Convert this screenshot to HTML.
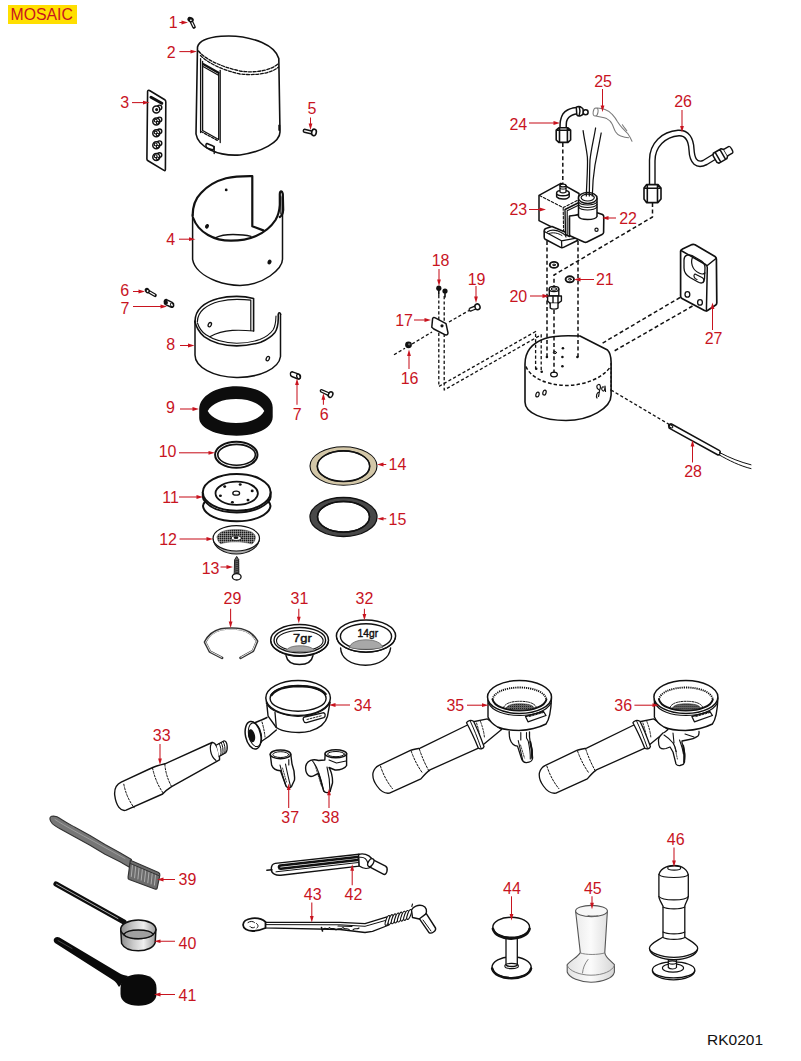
<!DOCTYPE html>
<html><head><meta charset="utf-8"><title>Mosaic exploded view RK0201</title>
<style>
html,body{margin:0;padding:0;background:#fff;}
body{width:801px;height:1061px;overflow:hidden;position:relative;font-family:"Liberation Sans",sans-serif;}
#tag{position:absolute;left:8px;top:4.5px;width:69px;height:19px;background:#ffdf00;}
#tag span{position:absolute;left:2.6px;top:0.3px;color:#c8141f;font-size:15.8px;line-height:19px;letter-spacing:0px;}
#rk{position:absolute;left:707px;top:1031px;font-size:15.5px;color:#111;}
svg{position:absolute;left:0;top:0;}
</style></head>
<body>
<div id="tag"><span>MOSAIC</span></div>
<svg width="801" height="1061" viewBox="0 0 801 1061">
<defs><pattern id="mesh" width="2" height="2" patternUnits="userSpaceOnUse"><rect width="2" height="2" fill="#6a6a6a"/><rect width="1" height="1" fill="#1a1a1a"/><rect x="1" y="1" width="1" height="1" fill="#9a9a9a"/></pattern><pattern id="mesh2" width="2" height="2" patternUnits="userSpaceOnUse"><rect width="2" height="2" fill="#666"/><rect width="1" height="1" fill="#222"/></pattern></defs>
<g fill="none" stroke="#111" stroke-width="1.3" stroke-linejoin="round" stroke-linecap="round">
<path stroke-width="3.6" d="M191.3,21.5 L194,27"/>
<path stroke="#fff" stroke-width="1.1" d="M191.6,22 L193.8,26.5"/>
<ellipse cx="190.6" cy="19.6" rx="3.3" ry="2.6" transform="rotate(25 190.6 19.6)" fill="#111" stroke="none"/>
<ellipse cx="190.9" cy="20.2" rx="1" ry="0.8" fill="#fff" stroke="none"/>
<path stroke-width="1.6" d="M197.5,47 C199,41 208,37.5 221,36.3 C235,35.2 250,37.5 262,42.5 C271,46.5 277,52 278.8,58.5 L280,132 C280,142 262,152 240,155 C218,156.5 198,147 196,134 Z"/>
<path stroke-dasharray="3,1.6" d="M198.5,51 C204,58 218,66 240,71 C256,73.5 272,70 278.3,63.5"/>
<path stroke-dasharray="3,1.6" d="M200.5,55.5 C208,63 222,70 240,74 C257,76 273,72.5 278.5,67"/>
<path d="M200.6,58.7 L200.6,132.5"/>
<path d="M202.6,61.5 L202.6,130.5 L218.7,139.5 L218.7,72.5"/>
<path d="M220.2,70.5 L220.2,142.5"/>
<path stroke-width="2.2" d="M203.5,64.2 L218.5,72.8"/>
<path d="M203.5,66.8 L218.5,75.2"/>
<path stroke-dasharray="2.5,1.5" d="M201,131.5 L218.5,141"/>
<path stroke-width="1.5" d="M207,143.5 L212.5,145.8 C214.5,146.6 214.7,149.5 212.5,149.6 L207.5,148.2 C205.5,147.5 205.5,143.2 207,143.5 Z"/>
<path d="M214.2,146.5 L214.2,153.5"/>
<path stroke-width="2" d="M279.3,125.5 L279.3,130"/>
<path stroke-width="1.6" d="M147.6,91.5 C147.6,90.3 148.5,90 149.5,90.5 L164.8,99.8 C165.6,100.3 165.8,101 165.8,102 L165.4,169.5 C165.4,170.5 164.8,170.8 164,170.4 L148,160.8 C147.2,160.3 146.9,159.8 146.9,159 Z"/>
<path stroke-width="3" d="M151,97.3 L161.8,103.3"/>
<circle cx="159.5" cy="107.4" r="2.3" fill="#fff" stroke-width="1.4"/>
<circle cx="156.3" cy="109.4" r="3.5" fill="#fff" stroke-width="1.5"/>
<ellipse cx="156.60000000000002" cy="109.60000000000001" rx="1.5" ry="1.6" fill="#111" stroke="none"/>
<circle cx="159.5" cy="119.4" r="2.3" fill="#fff" stroke-width="1.4"/>
<circle cx="156.3" cy="121.4" r="3.5" fill="#fff" stroke-width="1.5"/>
<circle cx="155.70000000000002" cy="120.60000000000001" r="1.4" stroke-width="1.1"/>
<circle cx="157.60000000000002" cy="122.7" r="1.3" stroke-width="1.1"/>
<circle cx="159.5" cy="131.3" r="2.3" fill="#fff" stroke-width="1.4"/>
<circle cx="156.3" cy="133.3" r="3.5" fill="#fff" stroke-width="1.5"/>
<circle cx="155.70000000000002" cy="132.5" r="1.4" stroke-width="1.1"/>
<circle cx="157.60000000000002" cy="134.60000000000002" r="1.3" stroke-width="1.1"/>
<circle cx="159.5" cy="143.2" r="2.3" fill="#fff" stroke-width="1.4"/>
<circle cx="156.3" cy="145.2" r="3.5" fill="#fff" stroke-width="1.5"/>
<circle cx="155.70000000000002" cy="144.39999999999998" r="1.4" stroke-width="1.1"/>
<circle cx="157.60000000000002" cy="146.5" r="1.3" stroke-width="1.1"/>
<circle cx="159.5" cy="155" r="2.3" fill="#fff" stroke-width="1.4"/>
<circle cx="156.3" cy="157" r="3.5" fill="#fff" stroke-width="1.5"/>
<circle cx="155.70000000000002" cy="156.2" r="1.4" stroke-width="1.1"/>
<circle cx="157.60000000000002" cy="158.3" r="1.3" stroke-width="1.1"/>
<path stroke-width="1.4" d="M304.5,129.3 L312.5,131.2 M304.3,132.2 L312,134 M304.5,129.3 C303,129.5 302.8,132 304.3,132.2"/>
<ellipse cx="314" cy="132.4" rx="2.3" ry="3.3" transform="rotate(12 314 132.4)" fill="#fff" stroke-width="1.6"/>
<path stroke-width="1.5" d="M192.6,214 L192.6,259.3 C194,268 203,276 216,281 C225,284.3 233,285.4 240,285.4 C252,285.4 262,281.5 270,276 C277,271 282.5,266 282.5,259.3 L282.5,197.5"/>
<path stroke-width="2.2" d="M192.6,216 C192.6,206 196,198 201,193 C207,186.5 216,181 226,178.3 C234,176.5 244,176.1 252.3,176.2 L252.3,226.3 L263.3,230.4"/>
<path stroke-width="2.2" d="M193.2,218 C196,226 201,231 208,235 C215,239 223,240.7 231,240.7 C240,240.7 248,239.5 256,236 C264,232.5 271,227 275.5,220 C278.5,215 279.5,210 279.8,205 L279.8,194 C280,190.5 282,190.5 282.8,194 L283.2,210 C283,213 281.5,216 279.8,217"/>
<path stroke-width="1.1" d="M280.8,196 L280.8,214"/>
<path stroke-width="1.3" d="M215.2,237.8 C220,235.5 227,234.5 233,234.5 C240,234.5 246,235 251,236.3"/>
<circle cx="226.2" cy="189.9" r="1.4" fill="#111" stroke="none"/>
<ellipse cx="207" cy="226.3" rx="1.9" ry="2.4" transform="rotate(25 207 226.3)" fill="#111" stroke="none"/>
<ellipse cx="269.5" cy="262" rx="2" ry="2.5" transform="rotate(25 269.5 262)" fill="#111" stroke="none"/>
<path stroke-width="3.6" d="M148.5,291.5 L155,295.3"/>
<path stroke="#fff" stroke-width="1.1" d="M149.5,292 L154.6,295"/>
<ellipse cx="147.3" cy="290.6" rx="2.4" ry="2.9" transform="rotate(-30 147.3 290.6)" fill="#111" stroke="none"/>
<ellipse cx="147.6" cy="291" rx="0.9" ry="1.1" fill="#fff" stroke="none"/>
<path fill="#fff" stroke-width="1.5" d="M166.5,299.6 L172.2,302.4 C174.6,303.6 174,308 171.4,307.2 L165.6,304.6 C163.6,303.6 164,299 166.5,299.6 Z"/>
<ellipse cx="165.9" cy="302" rx="1.9" ry="2.5" transform="rotate(-25 165.9 302)" fill="#111" stroke="none"/>
<ellipse cx="171.9" cy="304.9" rx="1.3" ry="2" transform="rotate(-25 171.9 304.9)" stroke-width="0.9"/>
<path stroke-width="1.5" d="M195,321 L195,355 A42.8,22.5 0 0,0 280.5,356.5 L280.5,314"/>
<path stroke-width="1.6" d="M195,321.5 C195,315 197.5,310.5 201.3,307 C206,302.8 212,300 218.3,298.5 C224,297 230,296.4 236.7,296.4 C242,296.4 248,297 253.6,298.5 L253.6,331"/>
<path stroke-width="1.2" d="M197.3,322 C197.5,316 200,312 203.5,309 C208,305.3 213.5,302.8 219,301.5 C225,300 231,299.3 237,299.3 C242,299.3 247,299.6 250.8,300.2 L250.8,330.5"/>
<path stroke-width="1.2" d="M209.8,336.7 C216,333.3 224,331 232.4,330.4 C239,330 246,330.3 253.6,331"/>
<path stroke-width="1.6" d="M195,322 C196.5,328 200,333 204.1,336.7 C212,342.5 224,345.9 236.7,345.9 C245,345.9 253,344.5 260.7,342.3 C267,339.5 272,336 274.9,332.4 C277.5,329 278.2,323 278.3,318 L278.2,314.5 C278.5,312 280.5,312.3 280.6,314.5"/>
<path stroke-width="1.1" d="M197.5,323 C199,328 202,332 206,334.8 C213,339.5 224,343 236.7,343.2 C245,343.2 253,341.8 259.8,339.6 C266,337 270.5,333.5 273,330 C275,327 275.8,322 276,316"/>
<ellipse cx="209.8" cy="324.7" rx="1.5" ry="2.3" transform="rotate(25 209.8 324.7)" stroke-width="1.3"/>
<ellipse cx="267.8" cy="358.6" rx="1.5" ry="2.3" transform="rotate(25 267.8 358.6)" stroke-width="1.3"/>
<path stroke-width="1.4" d="M292.5,371.8 L298.8,374.2 C301.5,375.2 300.8,379.8 298,379 L291.8,376.5 C289.7,375.8 290,371.5 292.5,371.8 Z"/>
<ellipse cx="298.4" cy="376.5" rx="1.6" ry="2.4" transform="rotate(-20 298.4 376.5)" fill="#fff" stroke-width="1.3"/>
<path stroke-width="1.3" d="M321.5,389.6 L329.5,393 M321.2,392 L328.6,395.6 M321.5,389.6 C320,389.5 320,391.8 321.2,392"/>
<ellipse cx="330.6" cy="394.6" rx="2.1" ry="2.9" transform="rotate(25 330.6 394.6)" fill="#fff" stroke-width="1.5"/>
<path fill="#0d0d0d" stroke="none" fill-rule="evenodd" d="M199.2,409 C199.5,396 216,386.2 236.5,386.2 C257,386.2 272.7,396 272.7,407.4 L272.7,417 C272.7,428 257,435.7 236.5,435.7 C216,435.7 199.2,428 199.2,418 Z M207.7,411 C212,403.5 222,399 236,399 C250,399 260,403.5 264.3,411 C260,418.5 250,423 236,423 C222,423 212,418.5 207.7,411 Z"/>
<ellipse cx="236.3" cy="454.8" rx="21.2" ry="13" stroke-width="2"/>
<ellipse cx="236.6" cy="454.8" rx="18.8" ry="10.4" stroke-width="1.6"/>
<path fill="#fff" stroke-width="2" d="M202.8,492.3 L202.8,497 C203,499 204,500.5 205.2,501.5 C203.8,503 203,504.5 203,506 C204,514.5 218,521.3 236.7,521.3 C255,521.3 269.5,514.5 270.5,506 C270.5,504.5 269.8,503 268.4,501.5 C269.6,500.5 270.5,499 270.6,497 L270.6,492.3"/>
<ellipse cx="236.7" cy="492.3" rx="33.9" ry="18.4" fill="#fff" stroke-width="2"/>
<path stroke-width="1.9" d="M205.2,501.5 C211,508.5 223,512.5 236.7,512.5 C250,512.5 262.5,508.5 268.4,501.5"/>
<ellipse cx="236.7" cy="493.3" rx="21.2" ry="11.6" stroke-width="1.8"/>
<ellipse cx="236.2" cy="493.2" rx="3.4" ry="2" stroke-width="1.3"/>
<ellipse cx="224.7" cy="486.6" rx="1.5" ry="1.3" fill="#111" stroke="none"/>
<ellipse cx="240.2" cy="484.5" rx="1.5" ry="1.3" fill="#111" stroke="none"/>
<ellipse cx="252.2" cy="490.9" rx="1.5" ry="1.3" fill="#111" stroke="none"/>
<ellipse cx="248" cy="500.1" rx="1.5" ry="1.3" fill="#111" stroke="none"/>
<ellipse cx="232.4" cy="502.2" rx="1.5" ry="1.3" fill="#111" stroke="none"/>
<ellipse cx="220.4" cy="495.8" rx="1.5" ry="1.3" fill="#111" stroke="none"/>
<path fill="#aaa" stroke-width="1.1" d="M213.1,538.5 C213.5,547.5 224,554 236.3,554 C248.6,554 259,547.5 259.5,538.5 Z"/>
<ellipse cx="236.3" cy="538.3" rx="23.2" ry="12.7" fill="#fff" stroke-width="1.2"/>
<path fill="url(#mesh)" stroke="#555" stroke-width="0.6" d="M217.2,537 C218,531.5 226,529.6 236.3,529.6 C246.6,529.6 254.6,531.5 255.4,537 C255.3,540 254,542.5 252,544 C246,542.2 240,541.8 236,541.8 C230,541.8 225,542.3 220.5,543.8 C218.5,542 217.3,539.8 217.2,537 Z"/>
<ellipse cx="236.3" cy="538.1" rx="5.1" ry="2.3" fill="#fff" stroke-width="0.9"/>
<ellipse cx="236" cy="537.7" rx="2.4" ry="1.4" fill="#111" stroke="none"/>
<path fill="#666" stroke="#222" stroke-width="1" d="M234.8,559.5 L236.7,556.4 L238.6,559.5 L238.8,574 L234.6,574 Z"/>
<path stroke-width="0.8" stroke="#222" d="M234.5,561.2 L238.9,560"/>
<path stroke-width="0.8" stroke="#222" d="M234.5,563.2 L238.9,562"/>
<path stroke-width="0.8" stroke="#222" d="M234.5,565.2 L238.9,564"/>
<path stroke-width="0.8" stroke="#222" d="M234.5,567.2 L238.9,566"/>
<path stroke-width="0.8" stroke="#222" d="M234.5,569.2 L238.9,568"/>
<path stroke-width="0.8" stroke="#222" d="M234.5,571.2 L238.9,570"/>
<path stroke-width="0.8" stroke="#222" d="M234.5,573.2 L238.9,572"/>
<ellipse cx="236.7" cy="576.8" rx="4.4" ry="3.2" fill="#fff" stroke-width="1.3"/>
<path fill="#d3c7a8" stroke="#111" stroke-width="1.1" fill-rule="evenodd" d="M310,466 A33.5,19.3 0 1,0 377,466 A33.5,19.3 0 1,0 310,466 Z M317.3,466.2 A26.2,15.3 0 1,1 369.7,466.2 A26.2,15.3 0 1,1 317.3,466.2 Z"/>
<ellipse cx="343.5" cy="466.2" rx="26.2" ry="15.3" stroke="#111" stroke-width="1.6"/>
<path fill="#484848" stroke="#111" stroke-width="1.3" fill-rule="evenodd" d="M310,517 A33.5,19.5 0 1,0 377,517 A33.5,19.5 0 1,0 310,517 Z M317.5,516.8 A26,15.3 0 1,1 369.5,516.8 A26,15.3 0 1,1 317.5,516.8 Z"/>
<ellipse cx="343.5" cy="516.8" rx="26" ry="15.3" stroke="#111" stroke-width="1.5"/>
<path fill="#fff" stroke-width="1.6" d="M525,364 C525,352 532,343 545,338.5 C552,336.3 560,335.8 568,335.8 L580,336 L607.5,350 C610,352.5 611,356 611.1,362 L611.1,395 C611.1,408 590,420.5 566,420.5 C543,420.5 525,413 525,402 Z"/>
<path stroke-dasharray="3.5,2.2" stroke-width="1.5" stroke-linecap="butt" d="M526,366.5 C530,377 545,384.5 565,385.5 C585,385.5 602,378 609.5,368"/>
<path stroke-dasharray="2.5,1.8" stroke-width="1.1" stroke-linecap="butt" d="M611,363 L611,392"/>
<circle cx="546.9" cy="357" r="1.3" fill="#111" stroke="none"/>
<circle cx="562.9" cy="348.3" r="1.3" fill="#111" stroke="none"/>
<circle cx="562.4" cy="357" r="1.3" fill="#111" stroke="none"/>
<circle cx="562.4" cy="366.2" r="1.3" fill="#111" stroke="none"/>
<circle cx="577.4" cy="357" r="1.3" fill="#111" stroke="none"/>
<circle cx="536.2" cy="368.7" r="1.3" fill="#111" stroke="none"/>
<circle cx="541.7" cy="371.7" r="1.3" fill="#111" stroke="none"/>
<ellipse cx="554" cy="374.5" rx="3.4" ry="2.3" stroke-width="1.2"/>
<ellipse cx="554.9" cy="352.6" rx="1.6" ry="1.1" stroke-width="1"/>
<ellipse cx="537.5" cy="394.5" rx="1.6" ry="2.5" transform="rotate(15 537.5 394.5)" stroke-width="1.2"/>
<ellipse cx="544.5" cy="392.6" rx="1.6" ry="2.5" transform="rotate(15 544.5 392.6)" stroke-width="1.2"/>
<path stroke-width="1.2" d="M599.5,392 C596.5,392 596,396.5 597,398 M598.5,389.5 C596.5,388.5 596,385 598.5,384.5 C600.5,384.2 601,387.5 599.8,389.5 C599,391 599.5,393 598.5,396.5 M603.5,387 C601.5,386 601,390.5 603,391 C604.8,391.4 605,388 605,386 L605.5,391.5"/>
<path stroke-dasharray="4,2.6" stroke-width="1.5" stroke-linecap="butt" d="M562.8,143 L562.8,184"/>
<path stroke-dasharray="4,2.6" stroke-width="1.5" stroke-linecap="butt" d="M547,241 L547,357"/>
<path stroke-dasharray="4,2.6" stroke-width="1.5" stroke-linecap="butt" d="M578,241 L578,357"/>
<path stroke-dasharray="4,2.6" stroke-width="1.5" stroke-linecap="butt" d="M652.5,203 L652.5,217 L554,275 L554,286"/>
<path stroke-dasharray="4,2.6" stroke-width="1.5" stroke-linecap="butt" d="M554,310 L554,373"/>
<path stroke-dasharray="4,2.6" stroke-width="1.5" stroke-linecap="butt" d="M680,297.5 L601,344"/>
<path stroke-dasharray="4,2.6" stroke-width="1.5" stroke-linecap="butt" d="M692.5,306 L612.5,352"/>
<path stroke-dasharray="3.2,2.2" stroke-width="1.3" stroke-linecap="butt" d="M611,390 L671,425.5"/>
<path stroke-dasharray="3.2,2.2" stroke-width="1.3" stroke-linecap="butt" d="M438.8,295 L438.8,386.5 L535.6,331.5 L535.6,368.5"/>
<path stroke-dasharray="3.2,2.2" stroke-width="1.3" stroke-linecap="butt" d="M444.2,296 L444.2,390 L541.2,334.8 L541.2,371.5"/>
<path stroke-dasharray="3.2,2.2" stroke-width="1.3" stroke-linecap="butt" d="M394,354.7 L405,348.2 M412,344 L432,332 M449,322 L469,310.5"/>
<circle cx="408.5" cy="344.8" r="3.4" fill="#111" stroke="none"/>
<ellipse cx="409.2" cy="344.3" rx="1.3" ry="1.1" fill="#666" stroke="none"/>
<path fill="#fff" stroke-width="1.5" d="M432.6,318.5 C433.2,317.4 434.2,317.3 435.3,317.9 L446,323.6 L448,332.8 C448,334.6 446.8,335.4 445.3,334.8 L433.8,329 L431.8,327.2 Z"/>
<circle cx="442" cy="325.8" r="1.6" fill="#111" stroke="none"/>
<circle cx="438.8" cy="288.2" r="2.6" fill="#111" stroke="none"/>
<path stroke-width="1.6" d="M438.8,290.2 L438.8,294.2"/>
<circle cx="445" cy="291" r="2.6" fill="#111" stroke="none"/>
<path stroke-width="1.6" d="M445,293 L445,297"/>
<path stroke-width="1.3" d="M470,308.2 L476,305.6 M471,311 L477,308.5 M470,308.2 C468.5,309 469,311.2 471,311"/>
<ellipse cx="477.5" cy="306.8" rx="2.5" ry="2.9" transform="rotate(-20 477.5 306.8)" fill="#fff" stroke-width="1.5"/>
<path fill="#fff" stroke-width="1.4" d="M549.3,289 L549.3,296 L558.8,296 L558.8,289"/>
<ellipse cx="554" cy="289" rx="4.8" ry="2.6" fill="#fff" stroke-width="1.4"/>
<ellipse cx="554" cy="289" rx="2.8" ry="1.3" stroke-width="1"/>
<path fill="#fff" stroke-width="1.4" d="M547.6,296 L561.4,296 L561.4,301 L558,303.3 L550,303.3 L547.6,301 Z M553,296 L553,303 M558,296 L558,303"/>
<path fill="#fff" stroke-width="1.4" d="M550.2,303.3 L550.2,308 C551.5,309.5 556.5,309.5 558,308 L558,303.3"/>
<ellipse cx="554" cy="264.9" rx="4.2" ry="3" stroke-width="1.9"/>
<ellipse cx="554" cy="264.9" rx="1.5" ry="0.8" stroke-width="1"/>
<ellipse cx="569.8" cy="279.3" rx="4.2" ry="3" stroke-width="1.9"/>
<ellipse cx="569.8" cy="279.3" rx="1.5" ry="0.8" stroke-width="1"/>
<path fill="#fff" stroke-width="1.5" d="M539,195.3 L560.9,183.3 L579,193.5 L579,222 L563.7,233 L539,220.6 Z"/>
<path stroke-dasharray="2.6,1.8" stroke-width="1.1" d="M539.5,195.6 L563.2,207.6 L578.5,199.8 M563.2,207.6 L563.6,232.5"/>
<path fill="#fff" stroke-width="1.4" d="M556.6,193 L556.6,196.8 C559,199.8 567,199.8 569.2,196.8 L569.2,193"/>
<ellipse cx="562.9" cy="193" rx="6.3" ry="2.8" fill="#fff" stroke-width="1.4"/>
<path fill="#fff" stroke-width="1.3" d="M560,185.5 L560,192 C561.5,193 564.5,193 566,192 L566,185.5"/>
<ellipse cx="563" cy="185.5" rx="3" ry="1.4" fill="#fff" stroke-width="1.3"/>
<path stroke-width="1" d="M560,188.5 C561.5,189.4 564.5,189.4 566,188.5"/>
<path fill="#fff" stroke-width="1.6" d="M544.2,231 C544.2,229.5 545,228.6 546.5,228.2 L552,226.5 L578,237.5 L577.4,240.5 L563.5,247.4 C562.5,247.9 561.5,247.9 560.6,247.4 L545.2,239.2 C544.4,238.7 544.2,238 544.2,237 Z"/>
<path stroke-width="1.3" d="M544.4,231.5 L561.5,240.8 L577.6,237.8 M561.5,240.8 L561.8,247.5"/>
<path stroke-width="1.2" d="M547.5,231.8 C551,229.5 557,230 563,233.5 C565,234.7 566,236 566,237"/>
<path stroke-width="1" d="M549,233.5 C553,232 558,233 562,235.5"/>
<path fill="#fff" stroke-width="1.4" d="M565,209.5 L579,202.5 L579,214 L569.5,218.5 L569.5,236.5 L565.5,234.5 Z"/>
<path stroke-width="1.1" d="M567.2,210.8 L579,205 M567.2,210.8 L567.2,235.5"/>
<path fill="#fff" stroke-width="1.6" d="M569.5,216 L596.5,212.5 L602.5,214.5 C603.6,215.2 603.8,216 603.8,217 L603.6,232.5 C603.5,233.5 603,234 602,234.5 L587,242 C586,242.5 585,242.5 584,242 L570.5,236 C569.8,235.6 569.5,235 569.5,234 Z"/>
<circle cx="596.5" cy="229.8" r="1.6" stroke-width="1.2"/>
<path fill="#fff" stroke-width="1.5" d="M578.5,198.5 L578.5,216.5 C580,220.5 595,220.5 597,216.5 L597,198.5"/>
<ellipse cx="587.7" cy="198" rx="9.3" ry="5.4" fill="#fff" stroke-width="1.5"/>
<ellipse cx="587.7" cy="197.6" rx="6.6" ry="3.4" stroke-width="1.2"/>
<path stroke-width="1.1" d="M578.6,202 C581,206 594,206 596.9,202 M578.6,204.5 C581,208.5 594,208.5 596.9,204.5 M578.6,207 C581,211 594,211 596.9,207"/>
<path stroke-width="1.25" d="M586.3,196 C586.5,185 588,168 587.4,157.4 C586.5,148 584,138 583.1,130.6 M589.3,196 C589.5,185 589.5,170 590,160 C591,150 594,138 595.6,128 M592.3,196 C592.5,185 593.5,174 595,165 C597,155 599.5,142 601.2,133"/>
<path stroke-width="1.5" d="M560,128.1 C560,124 560,122 560.6,120 C561.3,117 562,115.5 563.1,113.7 C564.5,111.8 566,110.8 567.5,110 C569.5,109 571,108.5 572.5,108.1 C574,107.8 575.5,107.6 576.8,107.5"/>
<path stroke-width="1.5" d="M566.2,128.1 C566.2,125 566.2,123.5 566.5,121.8 C567,119.8 567.6,118.6 568.7,117.5 C569.8,116.4 571,115.6 572.5,115 C574,114.3 575.8,113.9 577.5,113.7"/>
<path fill="#fff" stroke-width="1.5" d="M576.3,107.3 C577.5,106.3 579,106.2 580.5,106.8 L582.8,108.5 C583.6,110.5 583.6,113 582.8,114.5 L580.5,115.8 C579,116.2 577.5,115.8 576.8,114.8 Z M579.2,106.8 C580.2,109.5 580.2,112.5 579.2,115.6"/>
<circle cx="585.6" cy="112.2" r="2.5" fill="#fff" stroke-width="1.5"/>
<path fill="#fff" stroke-width="1.6" d="M556.2,130 L558.8,127.8 L568,127.8 L570.6,130 L570.6,140 L568,142.4 L558.8,142.4 L556.2,140 Z M559.5,128 L559.5,142.3 M567.4,128 L567.4,142.3 M556.2,130.2 L570.6,130.2"/>
<g stroke="#7a7a7a" stroke-width="1.05"><ellipse cx="595.6" cy="112" rx="2.4" ry="4" transform="rotate(10 595.6 112)"/><path d="M597,108 C600,108.3 603,108.8 605,109.4 C608,110.5 610.5,112 612,114.2 C614.5,117 616,119 617.2,121.2 C619,124 620.5,126 622.4,128.2 C624.5,130.5 626.5,132 627.7,133.5 C629.5,136 631,139 632,141.3"/><path d="M596.2,116 C600,117 603.5,117.5 606.7,118.6 C609,119.8 611,121.5 612,123.8 C613.5,127 614.2,129.5 615.5,131.7 C617,134 618.5,135.5 620.7,136.1 C623.5,137 626,137.6 628.6,137.8"/><path d="M622.4,124.7 C623.5,126.5 625.5,129 626.8,130.8"/></g>
<path stroke-width="1.4" d="M649.5,185 L649.5,160 C649.5,143 662,131.5 678,130.3 C689,129.8 693.5,138 694,149 C694.5,158 697,163 703,160.5 L716,152.5"/>
<path stroke-width="1.4" d="M655,185 L655,161 C655,147 665,137 679,135.8 C686,135.5 688.5,141 689,150 C689.5,163 696,170 707,164.5 L718.5,157.5"/>
<path fill="#fff" stroke-width="1.6" d="M644,188 L646.5,184.6 L658,184.6 L661,188 L661,199 L658,202.6 L646.5,202.6 L644,199 Z M647.3,185 L647.3,202.4 M657.5,185 L657.5,202.4 M644,188.3 L661,188.3"/>
<g transform="rotate(-30 723 154)"><path fill="#fff" stroke-width="1.5" d="M715,148.5 L724,148.5 L726,150.5 L726,158 L724,160 L715,160 L713.5,158 L713.5,150.5 Z M717,148.5 L717,160 M722.5,148.5 L722.5,160"/><path fill="#fff" stroke-width="1.4" d="M726,150.3 L731.5,150.3 C733.5,150.3 733.5,158 731.5,158 L726,158"/></g>
<path fill="#fff" stroke-width="1.7" d="M680.6,251 C680.6,249.8 681.5,249.5 682.5,249 L692,244.6 C693,244.2 694,244.3 695,244.8 L715,256.5 C716,257.2 716.4,258 716.4,259 L716.8,303 C716.8,304.3 716,305 715,305.5 L707.5,310.5 C706.5,311.2 705.5,311.1 704.5,310.6 L682,298.5 C681,298 680.6,297.2 680.6,296 Z"/>
<path stroke-width="1.5" d="M681,250.5 L705.5,264.5 C706.8,265.3 707.3,266.3 707.3,267.5 L706.4,310.8 M707.3,265.5 L716,258.5"/>
<path stroke-width="1.3" d="M684,260 C684,255 688,254 692,255.5 L701.5,261 C704.5,263 705,265 705,268 L704.5,279 C704,283 701.5,284 698,282 L690,277.5 C686,275 684,272 684,268 Z"/>
<path stroke-width="1.2" d="M693,256.5 C690,262 692,270 699,273 C702,274.5 704,274 705,273 M695,274 L702,277.5 C704,278.5 704.5,281 703,282.5 M695,274 C693,275 694,279 697,279.5"/>
<ellipse cx="687.4" cy="294.4" rx="2.4" ry="2.7" stroke-width="1.3"/>
<ellipse cx="700" cy="302.4" rx="2.4" ry="2.7" stroke-width="1.3"/>
<path fill="#fff" stroke-width="1.5" d="M671.5,424 L719.6,450.6 C721,451.5 720,455.5 718,455 L669.6,428.4 C668,427.5 669.8,423 671.5,424 Z"/>
<ellipse cx="670.6" cy="426.2" rx="1.3" ry="2.5" transform="rotate(-60 670.6 426.2)" stroke-width="1.1"/>
<path stroke-width="1" d="M719.5,452.5 C730,458 740,462 751,464.8 M718.5,454.5 C729,460.5 740,466 751,468.6"/>
<path stroke="#333" stroke-width="2.6" d="M222.1,657.8 L209.9,651.7 L205,642.1 C208,636 214,631 221,629.3 C226,628.3 236,628.2 241,629.2 C248,630.8 254,635.5 257.1,641.2 L253.1,650.8 L240.5,657.8"/>
<path stroke="#fff" stroke-width="0.9" d="M221.5,657.3 L210.3,651.5 L205.6,642.2 C208.6,636.3 214.3,631.6 221,630 C226,629 236,628.9 241,629.9 C247.7,631.4 253.4,635.8 256.5,641.3 L252.7,650.6 L241,657.3"/>
<path fill="#fff" stroke-width="1.4" d="M286,655.5 C287,661 292,664.5 299.5,664.5 C307,664.5 312,661 313,655.5"/>
<ellipse cx="299.6" cy="640.2" rx="28.9" ry="15.6" fill="#fff" stroke-width="1.5"/>
<path stroke-width="1.2" d="M270.9,641.5 C272,650 284,656 299.6,656.5 C315,656 327,650 328.3,641.5"/>
<ellipse cx="299.8" cy="640.2" rx="25.8" ry="12.7" stroke-width="1.4"/>
<ellipse cx="299.8" cy="640.8" rx="23.3" ry="10.3" stroke-width="1.1"/>
<path fill="#a8a8a8" stroke="#666" stroke-width="0.8" d="M286.3,650.6 C287.5,647.5 293,645.8 300,645.8 C307,645.8 313,647.5 314.2,650.6 C309,651.5 304,651.8 300,651.8 C295,651.8 290,651.4 286.3,650.6 Z"/>
<path fill="#fff" stroke-width="1.4" d="M340.6,648 C341,658 350,665 365.5,665.2 C380,665 389.5,658 390.6,648"/>
<ellipse cx="366" cy="636" rx="29.6" ry="16" fill="#fff" stroke-width="1.5"/>
<path stroke-width="1.2" d="M336.8,638 C338,646 350,652 366,652.5 C382,652 394,646 395.2,638"/>
<ellipse cx="366" cy="636.5" rx="25.6" ry="12.8" stroke-width="1.4"/>
<path fill="#a8a8a8" stroke="#666" stroke-width="0.8" d="M349.5,647.5 C350,643 357,639.8 366,639.8 C375,639.8 382,643 382.5,647.5 C377,648.8 371,649.3 366,649.3 C360,649.3 354,648.8 349.5,647.5 Z"/>
<path fill="#fff" stroke-width="1.4" d="M121.2,782.1 L150.5,768.5 C153,767.3 157,765.7 165,763.8 L212.1,742.5 C216,742 220,752 219.5,759.9 L171.6,786.7 C168,789 165,791.5 162.6,794 L126.1,810.2 C121,812 116,806 114.7,795 C114.2,789 116.5,784.3 121.2,782.1 Z"/>
<path stroke-width="1.2" d="M212.1,742.5 C209,746 210,756 216,760.5"/>
<path stroke-dasharray="2,1.6" stroke-width="1" d="M123.8,784.2 C125.5,793 129,801 134.2,807.8 M152.5,768 C154.5,777 158,786 163.5,793.5 M164.8,764.2 C165.5,772 167.5,779 171.4,786.2"/>
<path fill="#fff" stroke-width="1.3" d="M216.5,745 L224.2,740.8 C227.5,741 228.2,750 225.7,752.8 L219.2,756.4"/>
<path stroke-width="1" d="M219,743.7 C220.8,746 221.5,751 220.8,755.5 M221,742.6 C222.8,745 223.5,750 222.8,754.3 M223,741.5 C224.8,744 225.5,749 224.8,753.2"/>
<path fill="#fff" stroke-width="1.4" d="M266.9,705 L268.1,716.2 L276.3,727.5 C282,732 300,734 310,731.2 C320,728 326,722 327.5,716.2 L330,702.5"/>
<path stroke-width="1.3" d="M275,712.5 L276.3,727.5"/>
<ellipse cx="298.1" cy="698" rx="32.3" ry="17.4" fill="#fff" stroke-width="1.5"/>
<path stroke-width="1.2" d="M266.2,703 C270,711 284,716 298,716.3 C313,716 326,711 329.8,702.5"/>
<ellipse cx="298.1" cy="698.4" rx="28" ry="12.8" stroke-width="1.4"/>
<path stroke-width="2.6" d="M271.5,695 C276,689 286,686.3 298,686 C311,686 321,689 325.5,694"/>
<path fill="#fff" stroke-width="1.3" d="M304.5,717 L322.8,712.8 C325.5,712.3 326,716.5 323.8,717.6 L306.5,722.6 C303.5,723.3 302,717.8 304.5,717 Z"/>
<path stroke-dasharray="1.8,1.4" stroke-width="0.9" d="M307,719.5 L322,715.6"/>
<path fill="#fff" stroke-width="1.4" d="M267,717.5 C264,719 262,720 259,721 L251,724.4 L258,745.6 L262,741 C267,738 272,734 276.3,730"/>
<path stroke-dasharray="2,1.5" stroke-width="1" d="M257.5,726 C259,732 259.8,737 260,742 M262,722 C263.5,727 264.5,732 265,737"/>
<ellipse cx="253.1" cy="735.3" rx="7.6" ry="14" transform="rotate(-12 253.1 735.3)" fill="#fff" stroke-width="1.5"/>
<ellipse cx="255" cy="734.8" rx="6.3" ry="12" transform="rotate(-12 255 734.8)" stroke-width="1"/>
<ellipse cx="251.6" cy="735.8" rx="3.4" ry="6.6" transform="rotate(-12 251.6 735.8)" fill="#111" stroke="none"/>
<path fill="#fff" stroke-width="1.4" d="M270.3,754.5 L271.6,765 C273,769 277,770.5 280.5,770.8 L286,786 C287,788 290.5,788.5 291.5,786.5 L294.5,780 C295,773 293.5,768 292,764 L290.8,754.5"/>
<ellipse cx="280.5" cy="754.3" rx="10.3" ry="4.4" fill="#fff" stroke-width="1.5"/>
<ellipse cx="280.8" cy="754.6" rx="8" ry="2.9" stroke-width="1"/>
<path stroke-width="1.1" d="M280,765 C281.5,772 283.5,779 286,786 M285.5,764 C287,772 289,780 290.5,786.5 M288.8,759.5 L288.8,765"/>
<path stroke-dasharray="1.5,1.2" stroke-width="0.8" d="M282.5,768 L286.5,782"/>
<path fill="#fff" stroke-width="1.4" d="M325.2,754 L324.8,760 L318.5,760.5 C313,758.5 307,760.5 305.8,766 C305,771 307,776 311,776.5 C314,776.5 316,774 318.5,773.5 C320.5,779 322,786 323.8,791.2 C325,793 328.5,793 330,791.5 L332.5,783 C332.8,776 331,771 329,767.5 L335,770 C340,770.5 345.5,768 346.6,765.5 L346.6,753.5"/>
<ellipse cx="335.8" cy="753.8" rx="10.8" ry="4" fill="#fff" stroke-width="1.5"/>
<ellipse cx="336" cy="754.1" rx="8.4" ry="2.6" stroke-width="1"/>
<path stroke-width="1.1" d="M312.5,761 C317,766 320.5,776 323.8,791 M327,767 C329,775 330,783 330,791.5 M329,760 L336.5,763 L346,761"/>
<path stroke-dasharray="1.5,1.2" stroke-width="0.8" d="M315,765 L321.5,786"/>
<g transform="translate(0,0)"><path fill="#fff" stroke-width="1.3" d="M379,765.4 L410.4,750.4 C413,749.5 416,749 420.2,748.2 L468.5,724.5 L479,747.8 L430,769.9 C427,772 424.7,774.4 420.9,778.9 L389.5,793.1 C384,794 380.5,791 377,786 C373.5,781 372.5,776 373,772.9 C374,769 376,766.8 379,765.4 Z"/><path stroke-dasharray="2,1.6" stroke-width="1" d="M380.5,766.2 C383,774 387,782 392.5,788.7 M411.2,751.2 C414,759 417.5,766 422.4,772.9 M419.4,749.3 C422,757 425,764 429.2,771.4"/><path fill="#fff" stroke-width="1.3" d="M472,722 L487.4,718.9 L501.6,729.6 L481,746.5 Z"/><path stroke-dasharray="2,1.5" stroke-width="0.9" d="M476.5,723 C478.5,729 480,735 480.5,742 M480.5,721.5 C482.5,727 484,732 484.5,738"/><path fill="#fff" stroke-width="1.3" d="M466.5,722.8 C467.5,720.3 471,719.8 473.5,721.3 C477,728 480.5,737 484,746.5 C483.5,749 480,749.5 478.3,748 C475,740 471,731 466.5,722.8 Z"/><path stroke-width="1" d="M470.2,721 C474,729 477.5,738 481,748"/><path fill="#fff" stroke-width="1.4" d="M488,699 L488,717 C490,722 494,725 497.5,727 C504,730 512,730.5 519,730.5 C530,730 540,727 546,724 C549,720 551,712 551.5,698"/><ellipse cx="519.5" cy="697" rx="32" ry="16.5" fill="#fff" stroke-width="1.5"/><path stroke-width="1.2" d="M488.5,703 C492,711 505,715.5 519.5,715.5 C534,715.5 547,711 551,703"/><path stroke-width="1.9" d="M492.6,699.5 C494,706 505,710.6 519.5,710.6 C534,710.6 545,706 546.4,699.5"/><path stroke-width="1.9" stroke-dasharray="1.2,0.9" stroke-linecap="butt" d="M492.6,699.5 C493.5,692.5 505,687.5 519.5,687.5 C534,687.5 545.5,692.5 546.4,699.5"/><path stroke-width="1" stroke-dasharray="1.5,1.2" d="M503.5,707.5 C505.5,703 512,701.3 520,701.3 C528,701.3 534.5,703 536.5,707.5"/><path fill="url(#mesh2)" stroke="#333" stroke-width="0.6" d="M506.5,707.5 C508,704.8 513,703.8 520,703.8 C527,703.8 532,704.8 534,707.5 C531,709.3 526,709.9 520,709.9 C514,709.9 509,709.3 506.5,707.5 Z"/><path fill="#fff" stroke-width="1.3" d="M525.5,716.5 L543.5,711.5 L546,715.5 L528,721.8 Z M525.5,716.5 L528,721.8"/><path stroke-dasharray="1.8,1.4" stroke-width="0.9" d="M529.5,716.5 L543.5,712.5"/><path fill="#fff" stroke-width="1.3" d="M509.2,731.5 C509,737 510.5,742 513,744.2 C514.5,745.5 516,746 517.5,746.1 L521,757 C522,761 524,762.8 526.5,762.6 C530,762.3 532.6,760.5 532.5,758.4 C532.8,752 531.5,746 530.2,742 L529.5,737 L529.5,731.8"/><path stroke-width="1.1" d="M518.2,740.5 L522.7,760 M520.8,732.5 L520.8,740 M526.5,732.5 L526.5,738 L528.2,741 C529.5,747 530.5,753 530.3,759"/><path stroke-width="2" d="M530.3,742 C531.5,747 532.3,752 532.2,758"/><path stroke-dasharray="1.5,1.2" stroke-width="0.8" d="M520.5,745 L524.5,758"/></g>
<g transform="translate(166.4,0)"><path fill="#fff" stroke-width="1.3" d="M379,765.4 L410.4,750.4 C413,749.5 416,749 420.2,748.2 L468.5,724.5 L479,747.8 L430,769.9 C427,772 424.7,774.4 420.9,778.9 L389.5,793.1 C384,794 380.5,791 377,786 C373.5,781 372.5,776 373,772.9 C374,769 376,766.8 379,765.4 Z"/><path stroke-dasharray="2,1.6" stroke-width="1" d="M380.5,766.2 C383,774 387,782 392.5,788.7 M411.2,751.2 C414,759 417.5,766 422.4,772.9 M419.4,749.3 C422,757 425,764 429.2,771.4"/><path fill="#fff" stroke-width="1.3" d="M472,722 L487.4,718.9 L501.6,729.6 L481,746.5 Z"/><path stroke-dasharray="2,1.5" stroke-width="0.9" d="M476.5,723 C478.5,729 480,735 480.5,742 M480.5,721.5 C482.5,727 484,732 484.5,738"/><path fill="#fff" stroke-width="1.3" d="M466.5,722.8 C467.5,720.3 471,719.8 473.5,721.3 C477,728 480.5,737 484,746.5 C483.5,749 480,749.5 478.3,748 C475,740 471,731 466.5,722.8 Z"/><path stroke-width="1" d="M470.2,721 C474,729 477.5,738 481,748"/><path fill="#fff" stroke-width="1.4" d="M488,699 L488,717 C490,722 494,725 497.5,727 C504,730 512,730.5 519,730.5 C530,730 540,727 546,724 C549,720 551,712 551.5,698"/><ellipse cx="519.5" cy="697" rx="32" ry="16.5" fill="#fff" stroke-width="1.5"/><path stroke-width="1.2" d="M488.5,703 C492,711 505,715.5 519.5,715.5 C534,715.5 547,711 551,703"/><path stroke-width="1.9" d="M492.6,699.5 C494,706 505,710.6 519.5,710.6 C534,710.6 545,706 546.4,699.5"/><path stroke-width="1.9" stroke-dasharray="1.2,0.9" stroke-linecap="butt" d="M492.6,699.5 C493.5,692.5 505,687.5 519.5,687.5 C534,687.5 545.5,692.5 546.4,699.5"/><path stroke-width="1" stroke-dasharray="1.5,1.2" d="M503.5,707.5 C505.5,703 512,701.3 520,701.3 C528,701.3 534.5,703 536.5,707.5"/><path fill="url(#mesh2)" stroke="#333" stroke-width="0.6" d="M506.5,707.5 C508,704.8 513,703.8 520,703.8 C527,703.8 532,704.8 534,707.5 C531,709.3 526,709.9 520,709.9 C514,709.9 509,709.3 506.5,707.5 Z"/><path fill="#fff" stroke-width="1.3" d="M525.5,716.5 L543.5,711.5 L546,715.5 L528,721.8 Z M525.5,716.5 L528,721.8"/><path stroke-dasharray="1.8,1.4" stroke-width="0.9" d="M529.5,716.5 L543.5,712.5"/><path fill="#fff" stroke-width="1.3" d="M496.6,733 C494.5,735 492.1,737 492.1,740 C492,743 492.3,746 493.5,747.5 C495.1,749 497.5,749.2 499.6,748.5 L503.6,747 C505,749 506,751 506.6,752 L509.6,764 C510.5,765.3 512,765.7 513.6,765.5 C516,765 517.6,764 517.6,763 C518.5,759 518.6,755 518.1,752 C517.5,748 516.8,745 515.6,743 L515.6,741 L520.6,740 C525,739.5 529,738 531.6,736 C532.6,734.5 532.8,733 532.6,731.5"/><path stroke-width="1.1" d="M497.6,735 C501,737 504,740 506.6,743 C508.5,746 509.5,749 510,752 M506.6,733 L507.6,743 M513.1,740 C515,745 516.5,749 517,754 M518.6,734 L527.6,737"/><path stroke-width="2" d="M516.8,746 C517.8,751 518.2,756 517.8,762"/><path stroke-dasharray="1.5,1.2" stroke-width="0.8" d="M508,745 L511,759"/></g>
<path fill="#767676" stroke="#333" stroke-width="1.1" d="M51.5,816.3 C55,815.6 58,816.8 60,818.5 C65,822 70,824.5 75,827.2 L90,835.5 L105,844.5 L120,852.7 L131.5,859.4 L129,867 L120,861.7 L105,854.2 L90,845.2 L75,837 L60,828.7 C56,826.5 53.5,825 52.2,823.5 C49.5,820.5 49,817 51.5,816.3 Z"/>
<path stroke="#9c9c9c" stroke-width="1" d="M55,819.5 C65,826 80,834 95,842 L125,858.5"/>
<path fill="#6c6c6c" stroke="#333" stroke-width="1.2" d="M130.4,860.2 L158.6,872.5 C159.8,873.3 160,874.3 159.8,875.5 L157.2,888 C156.8,889.2 156,889.4 154.8,889 L129.2,879.5 C128.2,879 127.9,878.2 128.1,877 Z"/>
<path stroke="#b4b4b4" stroke-width="0.9" d="M132.5,864.5 L131.3,876.5"/>
<path stroke="#b4b4b4" stroke-width="0.9" d="M135.8,866.0 L134.6,877.8"/>
<path stroke="#b4b4b4" stroke-width="0.9" d="M139.1,867.4 L137.9,879.0"/>
<path stroke="#b4b4b4" stroke-width="0.9" d="M142.4,868.9 L141.2,880.2"/>
<path stroke="#b4b4b4" stroke-width="0.9" d="M145.7,870.3 L144.5,881.5"/>
<path stroke="#b4b4b4" stroke-width="0.9" d="M149.0,871.8 L147.8,882.8"/>
<path stroke="#b4b4b4" stroke-width="0.9" d="M152.3,873.2 L151.1,884.0"/>
<path stroke="#b4b4b4" stroke-width="0.9" d="M155.6,874.6 L154.4,885.2"/>
<path stroke="#333" stroke-width="1" d="M130.4,863.5 L158.5,875.5"/>
<path stroke="#0d0d0d" stroke-width="5.2" d="M56,884 L124,922"/>
<path stroke="#a8a8a8" stroke-width="1" d="M56.5,884.3 L118,918.6"/>
<defs><linearGradient id="cupg" x1="0" x2="1" y1="0" y2="0"><stop offset="0" stop-color="#8c8c8c"/><stop offset="0.35" stop-color="#c9c9c9"/><stop offset="0.65" stop-color="#efefef"/><stop offset="1" stop-color="#9a9a9a"/></linearGradient></defs>
<path fill="url(#cupg)" stroke="#111" stroke-width="1.5" d="M120.7,929.3 L121.6,943.5 C124,948.5 130,950.8 138.3,950.8 C147,950.8 153.5,947.5 155.2,942.5 L155.9,929.3 Z"/>
<ellipse cx="138.3" cy="929.3" rx="17.6" ry="9.3" fill="url(#cupg)" stroke="#111" stroke-width="1.5"/>
<path fill="#a0a0a0" stroke="#111" stroke-width="1.4" d="M123.6,934.5 C126,931.3 131,930 138.3,930 C146,930 151.5,931.5 153.4,934.5 C150,937.5 145,938.7 138.3,938.7 C131,938.7 126,937.5 123.6,934.5 Z"/>
<path fill="#0a0a0a" stroke="none" d="M55,937.8 C53,939.3 53.5,942.4 55.8,943.4 L113,980 C116,982 117.5,984.5 119,987 L128,976 C125,975.5 122,974.5 119.5,973.2 L59.5,937.6 C58,936.8 56.3,936.8 55,937.8 Z"/>
<path fill="#0a0a0a" stroke="none" d="M120.5,988 C120.5,979 128,974.3 138.5,974.3 C149,974.3 156.5,979 156.5,988 L156.5,994 C156.5,1001.5 149,1005.8 138.5,1005.8 C128,1005.8 120.5,1001.5 120.5,994 Z"/>
<path stroke="#555" stroke-width="0.8" d="M58,940.6 L72,948.5"/>
<path fill="#fff" stroke-width="1.4" d="M275.3,863.4 L359.1,854.3 L359.1,866.1 L280.8,875.2 C276,875.8 271.5,873.5 271.3,869.6 C271.2,866.3 272.8,863.7 275.3,863.4 Z"/>
<path fill="#fff" stroke-width="2.5" d="M280.5,865.6 L357.2,857.1 C359.2,856.9 359.6,859.6 357.6,859.9 L280.9,868.8 C278.6,869 278.2,865.9 280.5,865.6 Z"/>
<path stroke-width="1" d="M276,871.8 L358.5,862.5"/>
<path stroke-width="1.4" d="M266.8,870.3 L272,869.8"/>
<path fill="#fff" stroke-width="1.4" d="M358.6,854.5 C363,853 368.5,854.5 371.5,858.3 L371.5,866.2 C368.5,869.2 363.5,869 359.2,866 Z"/>
<path stroke-width="1.1" d="M359.5,857.3 C363.5,856.8 366.7,858.8 367.8,863"/>
<path fill="#fff" stroke-width="1.4" d="M371.2,858.8 L385.6,866.2 C388.6,868.2 386.8,875.3 383.8,874.4 L369.5,866.8"/>
<ellipse cx="370.8" cy="862.6" rx="2.5" ry="4.3" transform="rotate(30 370.8 862.6)" fill="#fff" stroke-width="1.3"/>
<path fill="#fff" stroke-width="1.3" d="M263,922.3 L340,922.3 L365,923.7 L387,916.8 L389,925 L372.5,931.3 L365,932.5 L340,929.5 L263,927.8 Z"/>
<path stroke-width="1" d="M266,924.6 L340,924.8 L365,926.3 L387,920"/>
<path fill="#fff" stroke-width="1.8" d="M265.5,922 C262,918.5 257,917.8 252,918.3 C246,919 243,922 243.1,925 C243.2,928.5 247,931 252.5,931 C258,931 262,929.5 265.5,928 Z"/>
<path stroke-width="1" d="M248,922.5 C250,921 253,921 254.5,922.5 M250,926.5 C251,928 253,928.3 254.5,927.3 M256.5,923.5 C258.5,924.5 258.5,927 257,928"/>
<path stroke-width="1.1" d="M323,929.5 C325,926.5 327,930.5 329.5,927.5 C331.5,930.5 334,926.5 336,930 C338,927 340.5,930.5 343,927.5 C345,930.5 347.5,927 349.5,930 M338,926 L352,926.5 M353,929.8 C355,927.5 357,930 359,928"/>
<path stroke-width="1.6" d="M321.5,927.5 L322.5,931"/>
<ellipse cx="387.5" cy="920.5" rx="1.6" ry="5.2" transform="rotate(20 387.5 920.5)" fill="#fff" stroke-width="1.1"/>
<ellipse cx="390.6" cy="919.6" rx="1.6" ry="5.2" transform="rotate(20 390.6 919.6)" fill="#fff" stroke-width="1.1"/>
<ellipse cx="393.7" cy="918.8" rx="1.6" ry="5.2" transform="rotate(20 393.7 918.8)" fill="#fff" stroke-width="1.1"/>
<ellipse cx="396.8" cy="918.0" rx="1.6" ry="5.2" transform="rotate(20 396.8 918.0)" fill="#fff" stroke-width="1.1"/>
<ellipse cx="399.9" cy="917.1" rx="1.6" ry="5.2" transform="rotate(20 399.9 917.1)" fill="#fff" stroke-width="1.1"/>
<ellipse cx="403.0" cy="916.2" rx="1.6" ry="5.2" transform="rotate(20 403.0 916.2)" fill="#fff" stroke-width="1.1"/>
<ellipse cx="406.1" cy="915.4" rx="1.6" ry="5.2" transform="rotate(20 406.1 915.4)" fill="#fff" stroke-width="1.1"/>
<ellipse cx="409.2" cy="914.5" rx="1.6" ry="5.2" transform="rotate(20 409.2 914.5)" fill="#fff" stroke-width="1.1"/>
<path fill="#fff" stroke-width="1.4" d="M411.5,910 C413,906.5 418,904.5 422.5,905.6 C426.5,906.8 427.5,911 425.5,914.5 L421.5,919.5 L412.5,917.5 Z"/>
<path stroke-width="1.1" d="M411.8,906.5 L412.5,904"/>
<path fill="#fff" stroke-width="1.4" d="M419.5,918.8 L426.3,913.6 L435.5,928 C436.5,931 431.5,934.2 429,932.6 Z"/>
<path stroke-width="1" d="M423,920 L431,931"/>
<ellipse cx="511.6" cy="967.3" rx="19.6" ry="10.6" fill="#fff" stroke-width="1.4"/>
<path stroke-width="2.6" d="M492.2,968.5 C493.5,974.5 502,978.2 511.6,978.2 C521,978.2 529.7,974.5 531,968.5"/>
<path fill="#fff" stroke-width="1.3" d="M506,938 L506,965 C507.5,967 515.8,967 517.3,965 L517.3,938"/>
<ellipse cx="511.6" cy="966" rx="6.8" ry="2.6" stroke-width="1.1"/>
<ellipse cx="511.2" cy="927.3" rx="18.4" ry="10" fill="#fff" stroke-width="1.4"/>
<path stroke-width="2.6" d="M492.9,928.8 C494.3,934.8 502,938.6 511.2,938.6 C520.5,938.6 528.3,934.8 529.6,928.8"/>
<defs><linearGradient id="tg" x1="0" x2="1" y1="0" y2="0"><stop offset="0" stop-color="#e3e3e3"/><stop offset="0.5" stop-color="#fbfbfb"/><stop offset="1" stop-color="#d6d6d6"/></linearGradient></defs>
<path fill="url(#tg)" stroke="#555" stroke-width="1.1" d="M575.6,911 L580.3,952.4 C578,957 571,960 567.2,964.7 L567.2,972 C569,978 580,982.2 591,982.2 C603,982.2 613,978 614.4,972 L614.4,964.7 C610,960 605,957 604.8,952.4 L607.4,911 Z"/>
<ellipse cx="591.5" cy="911" rx="15.9" ry="5.6" fill="#f7f7f7" stroke="#555" stroke-width="1.1"/>
<path stroke="#777" stroke-width="0.9" d="M567.2,965.5 C569,971 580,975.2 591,975.2 C603,975.2 612.5,971 614.4,965.5 M580.5,953 C586,955 598,955 604.5,953 M588,959.5 C584.5,964 583,968 582.5,973 M588,915.5 C591,916.3 595,916.2 598,915.5"/>
<path fill="#fff" stroke-width="1.3" d="M658.9,876 C658.9,870 666,865.3 674.2,865.3 C682,865.3 688.3,870 688.3,876 L688.3,896.5 C688.3,899 686,902 684.8,906 L684.8,937 C690,941 697.7,944 697.7,948.2 C697.7,952.5 687,957.3 674,957.3 C661,957.3 649.4,952.5 649.4,948.2 C649.4,944 657,941 663,937 L663,906 C661,902 658.9,899 658.9,896.5 Z"/>
<ellipse cx="674.2" cy="868" rx="6.5" ry="2.1" stroke-width="1.1"/>
<path stroke-width="1.1" d="M658.9,874.5 C662,878.5 686,878.5 688.3,874.5 M658.9,896.5 C662,901 686,901 688.3,896.5 M663,907 C667,909.5 681,909.5 684.8,907 M663,932 C667,934.5 681,934.5 684.8,932 M663,937.5 C667,940 681,940 684.8,937.5"/>
<path stroke-width="1.3" d="M649.6,949.5 C651,955 661,959.7 674,959.7 C687,959.7 696.2,955 697.5,949.5"/>
<path fill="#fff" stroke-width="1.2" d="M668.3,960 L668.3,966.5 C670,968.5 675,968.5 676.5,966.5 L676.5,960 Z"/>
<ellipse cx="673.6" cy="969.9" rx="21.2" ry="8" fill="#fff" stroke-width="1.3"/>
<path stroke-width="1.3" d="M652.4,971 C653.5,976 662,979.8 673.6,979.8 C685,979.8 693.8,976 694.8,971"/>
<ellipse cx="673" cy="968" rx="10.6" ry="4.1" stroke-width="1.1"/>
<path fill="#fff" stroke-width="1.2" d="M668.3,963 L668.3,967.5 C670,969.5 675,969.5 676.5,967.5 L676.5,963"/>
<ellipse cx="672.4" cy="962.5" rx="4.1" ry="1.6" fill="#fff" stroke-width="1.1"/>
</g>
<g font-family="Liberation Sans" fill="#c8141f" stroke="none">
<text x="168.80" y="28.00">1</text>
<text x="166.80" y="57.77">2</text>
<text x="120.30" y="107.85">3</text>
<text x="166.22" y="244.70">4</text>
<text x="307.60" y="113.65">5</text>
<text x="120.35" y="296.25">6</text>
<text x="120.60" y="314.00">7</text>
<text x="166.22" y="350.12">8</text>
<text x="166.10" y="412.50">9</text>
<text x="292.70" y="419.75">7</text>
<text x="319.65" y="420.20">6</text>
<text x="158.65" y="457.00">10</text>
<text x="162.20" y="502.95">11</text>
<text x="159.15" y="544.55">12</text>
<text x="201.65" y="573.50">13</text>
<text x="388.52" y="470.07">14</text>
<text x="388.52" y="524.65">15</text>
<text x="400.65" y="384.25">16</text>
<text x="395.15" y="325.70">17</text>
<text x="431.65" y="266.00">18</text>
<text x="467.65" y="285.00">19</text>
<text x="509.40" y="301.50">20</text>
<text x="595.90" y="285.05">21</text>
<text x="619.15" y="223.80">22</text>
<text x="509.40" y="215.00">23</text>
<text x="509.40" y="130.30">24</text>
<text x="594.15" y="86.75">25</text>
<text x="674.15" y="106.75">26</text>
<text x="704.65" y="344.30">27</text>
<text x="684.15" y="476.50">28</text>
<text x="223.60" y="603.65">29</text>
<text x="290.50" y="603.65">31</text>
<text x="355.60" y="603.65">32</text>
<text x="152.85" y="741.30">33</text>
<text x="353.80" y="710.95">34</text>
<text x="446.40" y="711.05">35</text>
<text x="614.35" y="711.45">36</text>
<text x="281.25" y="822.80">37</text>
<text x="321.50" y="822.80">38</text>
<text x="178.53" y="885.38">39</text>
<text x="178.53" y="948.88">40</text>
<text x="178.53" y="1000.95">41</text>
<text x="344.55" y="899.55">42</text>
<text x="303.75" y="900.20">43</text>
<text x="503.00" y="893.60">44</text>
<text x="583.95" y="893.55">45</text>
<text x="666.85" y="844.65">46</text>
<line x1="179.4" y1="22.5" x2="182.5" y2="22.5" stroke="#c8141f" stroke-width="1.05"/>
<path d="M188.0,22.5 L181.5,24.4 L181.5,20.6Z" fill="#c8141f"/>
<line x1="179.4" y1="51.6" x2="191.5" y2="51.6" stroke="#c8141f" stroke-width="1.05"/>
<path d="M197.0,51.6 L190.5,53.5 L190.5,49.7Z" fill="#c8141f"/>
<line x1="132" y1="102.6" x2="144.0" y2="102.6" stroke="#c8141f" stroke-width="1.05"/>
<path d="M149.5,102.6 L143.0,104.5 L143.0,100.7Z" fill="#c8141f"/>
<line x1="179" y1="239.2" x2="190.0" y2="239.2" stroke="#c8141f" stroke-width="1.05"/>
<path d="M195.5,239.2 L189.0,241.1 L189.0,237.3Z" fill="#c8141f"/>
<line x1="310.5" y1="117.5" x2="310.5" y2="124.5" stroke="#c8141f" stroke-width="1.05"/>
<path d="M310.5,130.0 L308.6,123.5 L312.4,123.5Z" fill="#c8141f"/>
<line x1="133" y1="291.5" x2="139.5" y2="291.5" stroke="#c8141f" stroke-width="1.05"/>
<path d="M145.0,291.5 L138.5,293.4 L138.5,289.6Z" fill="#c8141f"/>
<line x1="133" y1="306.5" x2="161.5" y2="306.5" stroke="#c8141f" stroke-width="1.05"/>
<path d="M167.0,306.5 L160.5,308.4 L160.5,304.6Z" fill="#c8141f"/>
<line x1="180" y1="345.5" x2="189.0" y2="345.5" stroke="#c8141f" stroke-width="1.05"/>
<path d="M194.5,345.5 L188.0,347.4 L188.0,343.6Z" fill="#c8141f"/>
<line x1="180" y1="409" x2="193.5" y2="409.0" stroke="#c8141f" stroke-width="1.05"/>
<path d="M199.0,409.0 L192.5,410.9 L192.5,407.1Z" fill="#c8141f"/>
<line x1="297" y1="404.8" x2="297.0" y2="384.1" stroke="#c8141f" stroke-width="1.05"/>
<path d="M297.0,378.6 L298.9,385.1 L295.1,385.1Z" fill="#c8141f"/>
<line x1="323.4" y1="404.8" x2="323.4" y2="398.7" stroke="#c8141f" stroke-width="1.05"/>
<path d="M323.4,393.2 L325.3,399.7 L321.5,399.7Z" fill="#c8141f"/>
<line x1="179" y1="452.8" x2="209.5" y2="452.8" stroke="#c8141f" stroke-width="1.05"/>
<path d="M215.0,452.8 L208.5,454.7 L208.5,450.9Z" fill="#c8141f"/>
<line x1="179" y1="497" x2="197.5" y2="497.0" stroke="#c8141f" stroke-width="1.05"/>
<path d="M203.0,497.0 L196.5,498.9 L196.5,495.1Z" fill="#c8141f"/>
<line x1="179.5" y1="539" x2="207.5" y2="539.0" stroke="#c8141f" stroke-width="1.05"/>
<path d="M213.0,539.0 L206.5,540.9 L206.5,537.1Z" fill="#c8141f"/>
<line x1="220.5" y1="567" x2="227.5" y2="567.0" stroke="#c8141f" stroke-width="1.05"/>
<path d="M233.0,567.0 L226.5,568.9 L226.5,565.1Z" fill="#c8141f"/>
<line x1="386.25" y1="464.5" x2="382.5" y2="464.5" stroke="#c8141f" stroke-width="1.05"/>
<path d="M377.0,464.5 L383.5,462.6 L383.5,466.4Z" fill="#c8141f"/>
<line x1="386.25" y1="518.75" x2="382.5" y2="518.8" stroke="#c8141f" stroke-width="1.05"/>
<path d="M377.0,518.8 L383.5,516.9 L383.5,520.6Z" fill="#c8141f"/>
<line x1="409" y1="369" x2="409.0" y2="355.0" stroke="#c8141f" stroke-width="1.05"/>
<path d="M409.0,349.5 L410.9,356.0 L407.1,356.0Z" fill="#c8141f"/>
<line x1="414" y1="320" x2="425.5" y2="320.0" stroke="#c8141f" stroke-width="1.05"/>
<path d="M431.0,320.0 L424.5,321.9 L424.5,318.1Z" fill="#c8141f"/>
<line x1="439" y1="269" x2="439.0" y2="280.5" stroke="#c8141f" stroke-width="1.05"/>
<path d="M439.0,286.0 L437.1,279.5 L440.9,279.5Z" fill="#c8141f"/>
<line x1="476" y1="286" x2="476.0" y2="297.5" stroke="#c8141f" stroke-width="1.05"/>
<path d="M476.0,303.0 L474.1,296.5 L477.9,296.5Z" fill="#c8141f"/>
<line x1="530" y1="296" x2="543.5" y2="296.0" stroke="#c8141f" stroke-width="1.05"/>
<path d="M549.0,296.0 L542.5,297.9 L542.5,294.1Z" fill="#c8141f"/>
<line x1="594" y1="279.5" x2="579.5" y2="279.5" stroke="#c8141f" stroke-width="1.05"/>
<path d="M574.0,279.5 L580.5,277.6 L580.5,281.4Z" fill="#c8141f"/>
<line x1="616" y1="218" x2="607.5" y2="218.0" stroke="#c8141f" stroke-width="1.05"/>
<path d="M602.0,218.0 L608.5,216.1 L608.5,219.9Z" fill="#c8141f"/>
<line x1="529" y1="209.5" x2="540.5" y2="209.5" stroke="#c8141f" stroke-width="1.05"/>
<path d="M546.0,209.5 L539.5,211.4 L539.5,207.6Z" fill="#c8141f"/>
<line x1="529" y1="123" x2="554.5" y2="123.0" stroke="#c8141f" stroke-width="1.05"/>
<path d="M560.0,123.0 L553.5,124.9 L553.5,121.1Z" fill="#c8141f"/>
<line x1="602.5" y1="89" x2="602.5" y2="106.5" stroke="#c8141f" stroke-width="1.05"/>
<path d="M602.5,112.0 L600.6,105.5 L604.4,105.5Z" fill="#c8141f"/>
<line x1="682" y1="110" x2="682.0" y2="127.0" stroke="#c8141f" stroke-width="1.05"/>
<path d="M682.0,132.5 L680.1,126.0 L683.9,126.0Z" fill="#c8141f"/>
<line x1="712.5" y1="330" x2="712.5" y2="308.0" stroke="#c8141f" stroke-width="1.05"/>
<path d="M712.5,302.5 L714.4,309.0 L710.6,309.0Z" fill="#c8141f"/>
<line x1="692.5" y1="462.5" x2="692.5" y2="445.5" stroke="#c8141f" stroke-width="1.05"/>
<path d="M692.5,440.0 L694.4,446.5 L690.6,446.5Z" fill="#c8141f"/>
<line x1="230.6" y1="608.8" x2="230.6" y2="622.5" stroke="#c8141f" stroke-width="1.05"/>
<path d="M230.6,628.0 L228.7,621.5 L232.5,621.5Z" fill="#c8141f"/>
<line x1="298.8" y1="608.8" x2="298.8" y2="617.8" stroke="#c8141f" stroke-width="1.05"/>
<path d="M298.8,623.3 L296.9,616.8 L300.7,616.8Z" fill="#c8141f"/>
<line x1="364.4" y1="608.8" x2="364.4" y2="615.1" stroke="#c8141f" stroke-width="1.05"/>
<path d="M364.4,620.6 L362.5,614.1 L366.3,614.1Z" fill="#c8141f"/>
<line x1="160" y1="744" x2="160.0" y2="759.5" stroke="#c8141f" stroke-width="1.05"/>
<path d="M160.0,765.0 L158.1,758.5 L161.9,758.5Z" fill="#c8141f"/>
<line x1="350" y1="705" x2="334.5" y2="705.0" stroke="#c8141f" stroke-width="1.05"/>
<path d="M329.0,705.0 L335.5,703.1 L335.5,706.9Z" fill="#c8141f"/>
<line x1="467" y1="705.2" x2="483.0" y2="705.2" stroke="#c8141f" stroke-width="1.05"/>
<path d="M488.5,705.2 L482.0,707.1 L482.0,703.3Z" fill="#c8141f"/>
<line x1="634.4" y1="705.2" x2="653.5" y2="705.2" stroke="#c8141f" stroke-width="1.05"/>
<path d="M659.0,705.2 L652.5,707.1 L652.5,703.3Z" fill="#c8141f"/>
<line x1="288.7" y1="808" x2="288.7" y2="789.1" stroke="#c8141f" stroke-width="1.05"/>
<path d="M288.7,783.6 L290.6,790.1 L286.8,790.1Z" fill="#c8141f"/>
<line x1="329" y1="808" x2="329.0" y2="794.3" stroke="#c8141f" stroke-width="1.05"/>
<path d="M329.0,788.8 L330.9,795.3 L327.1,795.3Z" fill="#c8141f"/>
<line x1="175" y1="879.5" x2="162.5" y2="879.5" stroke="#c8141f" stroke-width="1.05"/>
<path d="M157.0,879.5 L163.5,877.6 L163.5,881.4Z" fill="#c8141f"/>
<line x1="175" y1="941.25" x2="159.5" y2="941.2" stroke="#c8141f" stroke-width="1.05"/>
<path d="M154.0,941.2 L160.5,939.4 L160.5,943.1Z" fill="#c8141f"/>
<line x1="175" y1="994.5" x2="159.5" y2="994.5" stroke="#c8141f" stroke-width="1.05"/>
<path d="M154.0,994.5 L160.5,992.6 L160.5,996.4Z" fill="#c8141f"/>
<line x1="352.2" y1="885.3" x2="352.2" y2="869.7" stroke="#c8141f" stroke-width="1.05"/>
<path d="M352.2,864.2 L354.1,870.7 L350.3,870.7Z" fill="#c8141f"/>
<line x1="311.8" y1="902.6" x2="311.8" y2="916.9" stroke="#c8141f" stroke-width="1.05"/>
<path d="M311.8,922.4 L309.9,915.9 L313.7,915.9Z" fill="#c8141f"/>
<line x1="511.5" y1="896.3" x2="511.5" y2="915.1" stroke="#c8141f" stroke-width="1.05"/>
<path d="M511.5,920.6 L509.6,914.1 L513.4,914.1Z" fill="#c8141f"/>
<line x1="592" y1="896.3" x2="592.0" y2="903.8" stroke="#c8141f" stroke-width="1.05"/>
<path d="M592.0,909.3 L590.1,902.8 L593.9,902.8Z" fill="#c8141f"/>
<line x1="674" y1="847.6" x2="674.0" y2="861.5" stroke="#c8141f" stroke-width="1.05"/>
<path d="M674.0,867.0 L672.1,860.5 L675.9,860.5Z" fill="#c8141f"/>
<text x="293.1" y="642.2" font-size="11.6" fill="#111" stroke="#111" stroke-width="0.45" textLength="18.6" lengthAdjust="spacingAndGlyphs">7gr</text>
<text x="357.6" y="637.2" font-size="11.6" fill="#111" stroke="#111" stroke-width="0.45" textLength="20.5" lengthAdjust="spacingAndGlyphs">14gr</text>
</g>
</svg>
<div id="rk">RK0201</div>
</body></html>
